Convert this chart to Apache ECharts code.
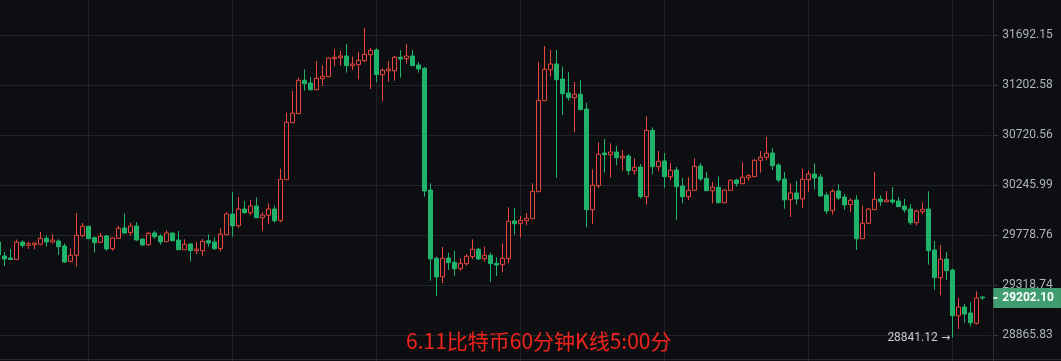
<!DOCTYPE html>
<html><head><meta charset="utf-8">
<script src="https://cdn.jsdelivr.net/npm/echarts@6/dist/echarts.min.js"></script>
<style>html,body{margin:0;padding:0;background:#0d0e11;}#c{width:1061px;height:361px;}</style>
</head><body><div id="c"></div>
<script>
const yTickValues = [28865.83, 29318.74, 29778.76, 30245.99, 30720.56, 31202.58, 31692.15];
const yTickLabels = ['28865.83','29318.74','29778.76','30245.99','30720.56','31202.58','31692.15'];
const titleText = '6.11比特币60分钟K线5:00分';
const lastPrice = 29202.10;
const lastPriceLabel = '29202.10';
const lowLabel = '28841.12';
const firstCandleTime = [2022, 6, 4, 9]; // year, month, day, hour of first (partly hidden) candle

const opens = [29714.4,29585.6,29567.2,29553.4,29714.4,29684.0,29689.6,29693.2,29748.4,29714.4,29723.6,29677.6,29536.8,29592.0,29772.4,29860.1,29754.0,29711.6,29769.6,29652.8,29748.4,29844.2,29800.3,29862.9,29742.0,29689.6,29797.5,29769.6,29717.2,29797.5,29732.8,29643.6,29696.0,29634.4,29634.4,29726.4,29714.4,29652.8,29781.6,29975.0,29865.7,30021.8,29987.2,30049.8,29940.5,29962.9,30021.8,29912.4,30296.3,30839.2,30925.9,31248.6,31222.2,31156.2,31264.3,31283.9,31460.1,31469.9,31486.5,31391.6,31401.4,31440.5,31499.3,31545.3,31303.4,31342.5,31342.5,31473.8,31460.1,31486.5,31398.4,31366.1,30199.3,29564.4,29395.2,29567.2,29527.6,29468.6,29514.8,29579.2,29647.2,29560.8,29592.0,29518.4,29505.6,29560.8,29909.6,29888.1,29912.4,29931.1,30183.4,31051.3,31352.4,31408.2,31261.3,31125.5,31080.2,31113.0,30971.2,30015.2,30239.4,30549.7,30533.6,30559.2,30502.3,30521.2,30381.7,30416.8,30136.7,30765.9,30419.7,30473.8,30324.8,30388.4,30236.6,30136.7,30196.5,30426.3,30309.6,30192.7,30224.5,30080.6,30196.5,30293.5,30258.3,30315.3,30324.8,30480.4,30508.9,30549.7,30435.8,30302.9,30108.7,30171.3,30115.2,30296.3,30350.4,30321.9,30152.6,30005.9,30190.0,30133.9,30062.0,30105.9,29744.8,29888.1,30015.2,30115.2,30090.0,30105.9,30096.5,30049.8,30021.8,29893.7,29996.5,30021.8,29640.8,29386.0,29558.0,29456.8,29040.6,29119.4,29065.1,28971.8,29209.9];
const closes = [29594.8,29558.0,29553.4,29714.4,29682.2,29698.8,29705.2,29748.4,29714.4,29732.8,29671.2,29530.4,29592.0,29776.0,29860.1,29744.8,29708.0,29766.8,29650.0,29751.2,29841.4,29797.5,29862.9,29732.8,29686.8,29794.7,29763.2,29714.4,29797.5,29726.4,29643.6,29693.2,29634.4,29650.0,29720.8,29705.2,29652.8,29788.1,29975.0,29862.9,30021.8,29987.2,30049.8,29940.5,29965.7,30021.8,29912.4,30300.1,30843.0,30929.8,31248.6,31215.3,31156.2,31268.2,31287.8,31466.9,31473.8,31486.5,31391.6,31408.2,31444.4,31503.2,31542.4,31303.4,31346.5,31359.2,31473.8,31457.2,31486.5,31391.6,31359.3,30190.0,29558.0,29392.4,29564.4,29524.0,29468.6,29518.4,29582.8,29647.2,29558.0,29592.0,29514.8,29502.8,29564.4,29906.8,29884.4,29916.2,29934.9,30187.2,31055.1,31356.3,31408.2,31254.5,31118.7,31080.2,31113.0,30964.5,30015.2,30243.2,30537.4,30533.6,30559.2,30505.1,30518.4,30381.7,30414.0,30136.7,30765.9,30419.7,30470.9,30324.8,30385.5,30230.1,30136.7,30196.5,30423.5,30302.9,30192.7,30224.5,30080.6,30199.3,30290.6,30258.3,30319.1,30334.3,30480.4,30508.9,30546.9,30429.2,30293.5,30105.9,30171.3,30115.2,30300.1,30350.4,30312.4,30143.3,30003.1,30187.2,30124.6,30059.1,30103.1,29744.8,29888.1,30021.8,30112.4,30090.0,30105.9,30087.2,30043.3,30012.4,29893.7,30003.1,30018.9,29634.4,29386.0,29555.2,29450.4,29040.6,29119.4,29056.0,28977.2,29200.9,29202.1];
const highs = [29714.4,29622.4,29650.0,29737.4,29728.2,29717.2,29709.8,29806.8,29772.4,29785.3,29739.2,29702.4,29656.4,29984.4,29890.9,29862.9,29763.2,29797.5,29778.8,29755.8,29862.9,29977.8,29893.7,29900.3,29744.8,29806.8,29819.0,29785.3,29822.7,29800.3,29816.2,29739.2,29700.6,29714.4,29742.0,29785.3,29757.6,29841.4,29990.9,30180.6,30133.9,30096.5,30105.9,30131.1,29990.9,30075.0,30052.6,30400.7,30935.6,31144.8,31274.1,31356.3,31280.9,31437.6,31395.5,31473.8,31552.1,31538.4,31604.0,31479.7,31528.6,31761.7,31564.9,31561.9,31369.0,31437.6,31486.5,31542.4,31604.0,31545.3,31427.8,31378.8,30262.1,29579.2,29668.4,29616.0,29634.4,29564.4,29604.0,29739.2,29662.0,29671.2,29616.0,29573.6,29702.4,30037.7,30031.1,29956.4,29984.4,30262.1,31427.8,31584.4,31545.3,31545.3,31381.8,31327.0,31232.0,31248.6,31032.0,30395.0,30651.3,30682.6,30641.8,30616.1,30578.2,30537.4,30499.4,30445.3,30900.9,30794.8,30568.7,30549.7,30457.6,30416.8,30312.4,30319.1,30499.4,30454.8,30372.2,30274.5,30328.6,30205.9,30300.1,30305.8,30461.4,30350.4,30492.8,30568.7,30701.6,30597.2,30454.8,30369.4,30262.1,30284.0,30400.7,30381.7,30452.0,30350.4,30177.5,30205.9,30252.6,30161.9,30124.6,30149.8,30052.6,30033.9,30369.4,30149.8,30190.0,30227.3,30133.9,30115.2,30068.5,30015.2,30084.4,30187.2,29723.6,29686.8,29622.4,29468.8,29200.9,29146.6,29162.0,29261.6,29212.0];
const lows = [29576.4,29493.6,29548.8,29548.8,29663.8,29650.0,29647.2,29684.0,29671.2,29702.4,29594.8,29521.2,29527.6,29487.2,29757.6,29742.0,29616.0,29705.2,29634.4,29634.4,29742.0,29788.1,29772.4,29723.6,29680.4,29680.4,29744.8,29689.6,29714.4,29723.6,29640.8,29640.8,29536.8,29604.0,29588.4,29671.2,29640.8,29628.8,29778.8,29763.2,29847.0,29977.8,29962.9,29937.7,29819.0,29878.8,29893.7,29897.5,30293.5,30836.3,30923.0,31147.7,31151.5,31153.4,31195.7,31280.9,31385.7,31391.6,31323.0,31349.5,31258.4,31430.7,31164.0,31229.0,31045.5,31234.9,31244.7,31274.1,31411.1,31388.6,31323.0,30136.7,29358.4,29219.1,29334.4,29456.8,29404.4,29450.4,29496.4,29558.0,29548.8,29536.0,29346.4,29401.6,29435.6,29518.4,29781.6,29754.0,29869.4,29928.3,30180.6,31048.4,31283.9,30315.3,30913.4,31051.3,30746.6,30961.6,29850.8,29878.8,30218.0,30362.7,30315.3,30433.0,30381.7,30340.9,30343.8,30118.0,30062.0,30347.6,30376.0,30220.8,30290.6,29921.8,30075.0,30105.9,30192.7,30284.0,30190.0,30075.0,30077.8,30075.0,30192.7,30230.1,30255.5,30286.8,30321.9,30362.7,30480.4,30388.4,30271.6,30024.6,29947.0,30062.0,30033.9,30180.6,30205.9,30140.5,29975.0,29968.5,30105.9,30015.2,29990.9,29640.8,29742.0,29878.8,30012.4,30049.8,30087.2,30068.5,30040.5,29987.2,29872.3,29869.4,29972.2,29506.0,29276.1,29225.4,29364.8,28841.12,28920.2,28977.2,28944.6,28959.1,29182.9];

// category labels: one per hour, plus one empty slot on the right
const pad = n => String(n).padStart(2, '0');
const categories = [];
const t0 = Date.UTC(firstCandleTime[0], firstCandleTime[1]-1, firstCandleTime[2], firstCandleTime[3]);
for (let k = 0; k < opens.length + 1; k++) {
  const d = new Date(t0 + k*3600000);
  categories.push(pad(d.getUTCMonth()+1) + '-' + pad(d.getUTCDate()) + ' ' + pad(d.getUTCHours()) + ':00');
}

// price -> axis position, piecewise between the labelled ticks
function toAxis(p) {
  const t = yTickValues;
  let k = 0;
  while (k < t.length - 2 && p > t[k+1]) k++;
  return k + (p - t[k]) / (t[k+1] - t[k]);
}

const kData = opens.map((o, i) => [toAxis(o), toAxis(closes[i]), toAxis(lows[i]), toAxis(highs[i])]);
let lowIdx = 0;
lows.forEach((v, i) => { if (v < lows[lowIdx]) lowIdx = i; });

const RED = '#ea463e', GREEN = '#1fb36b', GRIDC = '#212327';
const chart = echarts.init(document.getElementById('c'), null, {renderer: 'canvas'});
chart.setOption({
  backgroundColor: '#0d0e11',
  animation: false,
  title: {
    text: titleText, left: 401, top: 326,
    textStyle: {color: '#f0241c', fontSize: 21, fontWeight: 'normal', fontFamily: "'Noto Sans CJK SC', sans-serif"}
  },
  grid: {left: -4.7, top: -15, width: 996, height: 400, containLabel: false, outerBoundsMode: 'none'},
  xAxis: {
    type: 'category', data: categories, boundaryGap: true,
    axisLine: {show: false}, axisTick: {show: false}, axisLabel: {show: false},
    splitLine: {show: true, alignWithLabel: true, interval: (idx, val) => / 00:00$/.test(val), lineStyle: {color: GRIDC, width: 1}}
  },
  yAxis: {
    type: 'value', position: 'right', min: -1, max: 7, interval: 1, offset: 2,
    axisLine: {show: true, lineStyle: {color: '#2a2d32'}},
    axisTick: {show: true, length: 4, lineStyle: {color: '#3a3d43'}},
    axisLabel: {color: '#b0b4bb', fontSize: 12, margin: 9, fontFamily: 'Roboto, sans-serif',
      formatter: v => yTickLabels[Math.round(v)] || ''},
    splitLine: {show: true, lineStyle: {color: GRIDC, width: 1}}
  },
  graphic: [{type: 'line', silent: true, shape: {x1: 0, y1: 359.5, x2: 1061, y2: 359.5}, style: {stroke: '#2a2c31', lineWidth: 1}}],
  series: [{
    type: 'candlestick', data: kData, barWidth: 4, clip: false,
    itemStyle: {color: 'transparent', color0: GREEN, borderColor: RED, borderColor0: GREEN, borderWidth: 1},
    markPoint: {
      symbol: 'circle', symbolSize: 0, silent: true, animation: false,
      data: [{coord: [lowIdx, toAxis(lows[lowIdx])],
        label: {show: true, position: 'left', distance: 2, formatter: '{t|' + lowLabel + '} {a|→}',
          rich: {t: {color: '#c6c9ce', fontSize: 12, fontFamily: 'Roboto, sans-serif'},
                 a: {color: '#c6c9ce', fontSize: 11, fontFamily: "'DejaVu Sans', sans-serif"}}}}]
    },
    markLine: {
      symbol: ['none', 'none'], silent: true, animation: false,
      lineStyle: {color: 'rgba(0,0,0,0)', width: 1, type: 'solid'},
      label: {show: true, position: 'end', distance: 2, formatter: '{d|}{v|' + lastPriceLabel + '}',
        backgroundColor: '#3f9d6f', padding: [3, 7, 3, 0],
        rich: {d: {width: 4, height: 1.5, backgroundColor: '#ffffff', verticalAlign: 'middle'},
               v: {color: '#ffffff', fontWeight: 'bold', fontSize: 12, fontFamily: 'Roboto, sans-serif', lineHeight: 14, padding: [0, 0, 0, 5]}}},
      data: [{yAxis: toAxis(lastPrice)}]
    }
  }]
});
</script></body></html>
